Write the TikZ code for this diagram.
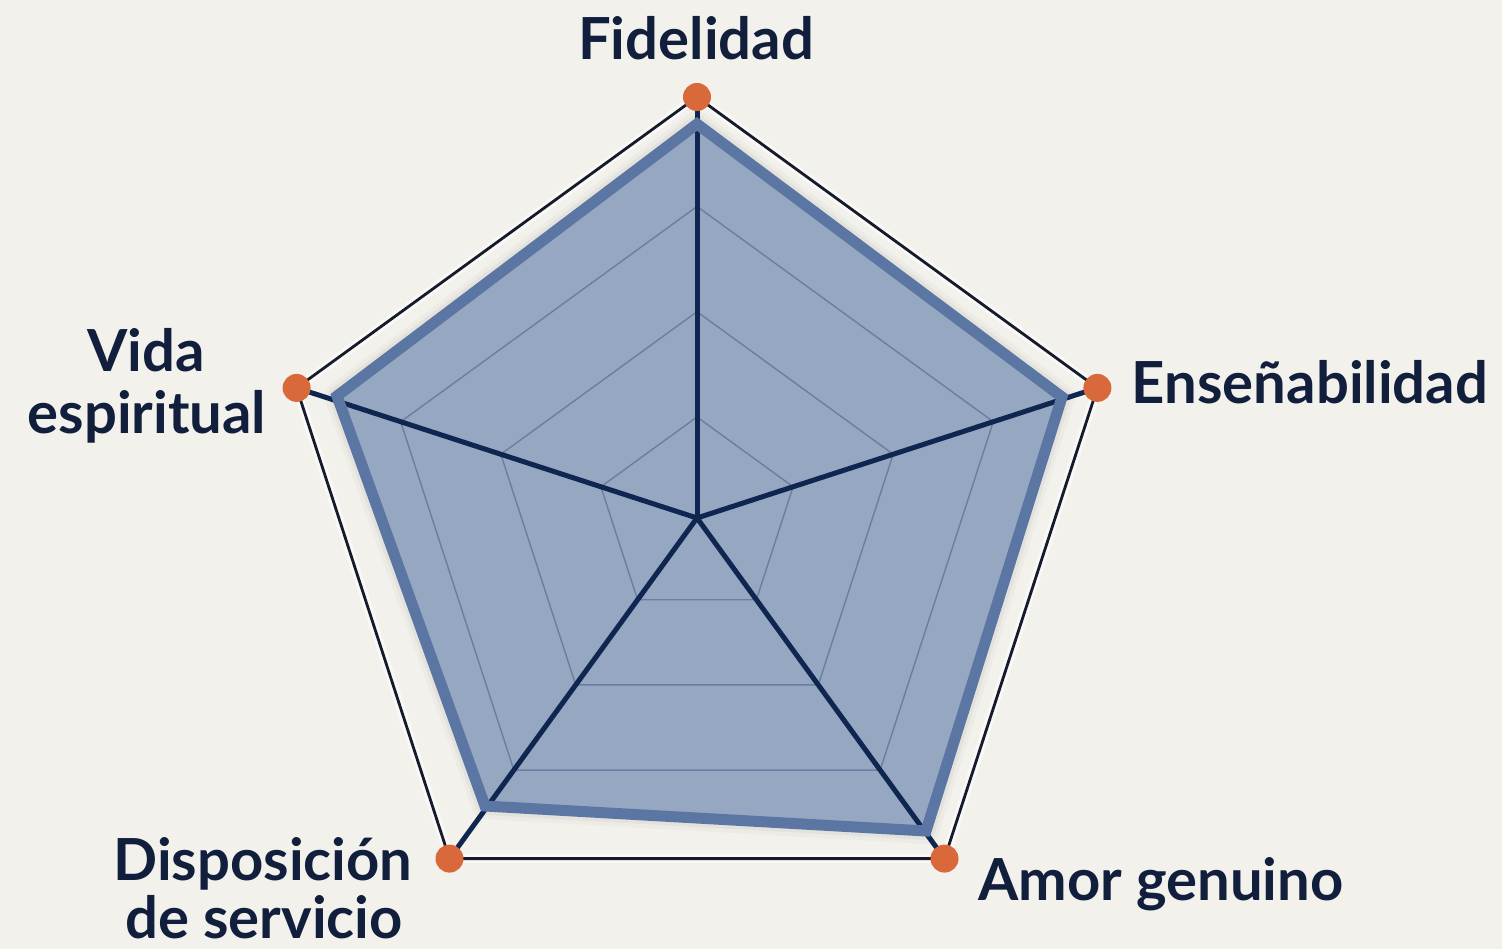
\documentclass[tikz,border=0pt]{standalone}
\usepackage{fontspec}
\setmainfont{Lato}
\usetikzlibrary{calc}
\definecolor{bgc}{HTML}{F2F1EC}
\definecolor{fillc}{HTML}{96A7C2}
\definecolor{strokec}{HTML}{5B76A2}
\definecolor{gridc}{HTML}{6A7EA2}
\definecolor{axisc}{HTML}{0F2650}
\definecolor{outerc}{HTML}{151B2A}
\definecolor{dotc}{HTML}{D9693B}
\definecolor{textc}{HTML}{111E3C}
\tikzset{
  dotnode/.style={circle,fill=dotc,minimum size=28pt,inner sep=0pt},
  axisline/.style={draw=axisc,line width=5pt},
  gridline/.style={draw=gridc,line width=1.4pt,line join=miter},
  outerline/.style={draw=outerc,line width=2.8pt,line join=miter},
  halo/.style={draw=white,line width=9pt,opacity=0.55,line join=miter},
  lab/.style={text=textc,font=\bfseries\fontsize{58}{60}\selectfont,inner sep=0pt,anchor=base}
}
\begin{document}
\begin{tikzpicture}[x=1pt,y=-1pt]
\useasboundingbox (0,0) rectangle (1502,949);
\fill[bgc] (0,0) rectangle (1502,949);
% geometry
\coordinate (c) at (697,518);
\coordinate (o1) at (697,97);
\coordinate (o2) at (1097.4,387.9);
\coordinate (o3) at (944.5,858.6);
\coordinate (o4) at (449.5,858.6);
\coordinate (o5) at (296.6,387.9);
\coordinate (d1) at (697,124);
\coordinate (d2) at (1062,397);
\coordinate (d3) at (926,831);
\coordinate (d4) at (485,806);
\coordinate (d5) at (337,396);
% halo + outer pentagon
\draw[halo] (o1)--(o2)--(o3)--(o4)--(o5)--cycle;
% shadow
\foreach \w/\op in {26/0.025,18/0.035,10/0.045,2/0.05}{
  \filldraw[black,opacity=\op,line width=\w pt,line join=round,yshift=-9pt]
    (d1)--(d2)--(d3)--(d4)--(d5)--cycle;
}
% data fill
\fill[fillc] (d1)--(d2)--(d3)--(d4)--(d5)--cycle;
% grid
\foreach \f in {0.24,0.49,0.74}{
  \draw[gridline] ($(c)!\f!(o1)$)--($(c)!\f!(o2)$)--($(c)!\f!(o3)$)--($(c)!\f!(o4)$)--($(c)!\f!(o5)$)--cycle;
}
% axes
\foreach \i in {1,...,5}{ \draw[axisline] (c)--(o\i); }
% data stroke
\draw[draw=strokec,line width=11pt,line join=miter] (d1)--(d2)--(d3)--(d4)--(d5)--cycle;
% outer pentagon
\draw[outerline] (o1)--(o2)--(o3)--(o4)--(o5)--cycle;
% dots
\foreach \i in {1,...,5}{ \node[dotnode] (p\i) at (o\i) {}; }
% labels
\node[lab] (lfid) at (696,60) {Fidelidad};
\node[lab] (lens) at (1310,404) {Enseñabilidad};
\node[lab] (lvid1) at (146,372) {Vida};
\node[lab] (lvid2) at (147,433) {espiritual};
\node[lab] (ldis1) at (263,880) {Disposición};
\node[lab] (ldis2) at (264,938) {de servicio};
\node[lab] (lamo) at (1161,900) {Amor genuino};
\end{tikzpicture}
\end{document}
